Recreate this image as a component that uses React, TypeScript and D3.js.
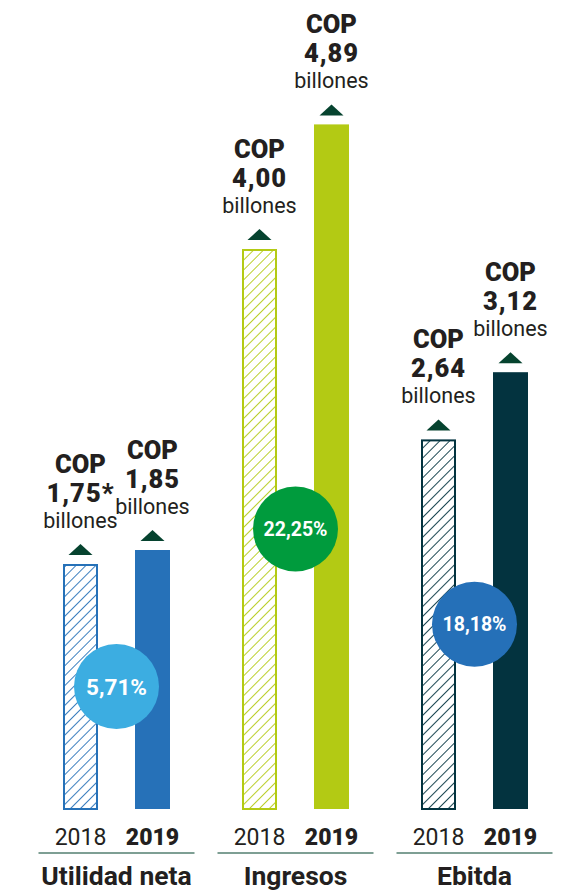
import React, { useEffect, useRef } from 'react';
import * as d3 from 'd3';

const categories = ['Utilidad neta', 'Ingresos', 'Ebitda'];
const years = ['2018', '2019'];
const values2018 = [1.75, 4.0, 2.64];
const values2019 = [1.85, 4.89, 3.12];
const notes2018 = ['*', '', ''];
const growth = ['5,71%', '22,25%', '18,18%'];

const barColors = ['#2671b8', '#b3ca14', '#03333f'];
const circleColors = ['#3cade1', '#009b3d', '#2570b8'];

const W = 568;
const H = 891;

const fmt = (v: number) => d3.format('.2f')(v).replace('.', ',');

const App: React.FC = () => {
  const svgRef = useRef<SVGSVGElement>(null);

  useEffect(() => {
    if (!svgRef.current) return;
    d3.select(svgRef.current).selectAll('*').remove();

    const svg = d3.select(svgRef.current).attr('width', W).attr('height', H);
    const font = 'Roboto, "DejaVu Sans", sans-serif';

    const x0 = d3.scaleBand<string>().domain(categories).range([27, 564]);
    const x1 = d3.scaleBand<string>().domain(years).range([0, x0.bandwidth()])
      .paddingInner(0.514).paddingOuter(0.5);
    const y = d3.scaleLinear().domain([0, 5]).range([809, 109]);

    // hatch patterns
    const defs = svg.append('defs');
    categories.forEach((c, i) => {
      const p = defs.append('pattern')
        .attr('id', `hatch-${i}`)
        .attr('patternUnits', 'userSpaceOnUse')
        .attr('width', 7)
        .attr('height', 7)
        .attr('patternTransform', 'rotate(45)');
      p.append('rect').attr('width', 7).attr('height', 7).attr('fill', '#fff');
      p.append('line')
        .attr('x1', 0).attr('y1', 0).attr('x2', 0).attr('y2', 7)
        .attr('stroke', barColors[i])
        .attr('stroke-width', 1.8);
    });

    const addText = (g: d3.Selection<SVGGElement, unknown, null, undefined>,
      x: number, yy: number, size: number, weight: number, txt: string, fill = '#231f20') =>
      g.append('text')
        .attr('x', x).attr('y', yy)
        .attr('text-anchor', 'middle')
        .attr('font-family', font)
        .attr('font-size', size)
        .attr('font-weight', weight)
        .attr('fill', fill)
        .text(txt);

    categories.forEach((c, i) => {
      const g = svg.append('g').attr('transform', `translate(${x0(c)},0)`);
      const cx = x0.bandwidth() / 2;
      const vals = [values2018[i], values2019[i]];

      vals.forEach((v, j) => {
        const bx = x1(years[j])!;
        const bw = x1.bandwidth();
        const top = y(v);
        if (j === 0) {
          g.append('rect')
            .attr('x', bx + 1).attr('y', top + 1)
            .attr('width', bw - 2).attr('height', y(0) - top - 1)
            .attr('fill', `url(#hatch-${i})`)
            .attr('stroke', barColors[i])
            .attr('stroke-width', 2);
        } else {
          g.append('rect')
            .attr('x', bx).attr('y', top)
            .attr('width', bw).attr('height', y(0) - top)
            .attr('fill', barColors[i]);
        }

        const mx = bx + bw / 2;
        // triangle marker
        g.append('path')
          .attr('d', `M${mx - 12},${top - 9} L${mx + 12},${top - 9} L${mx},${top - 20} Z`)
          .attr('fill', '#06432f');

        addText(g, mx, top - 91, 25.5, 900, 'COP');
        addText(g, mx, top - 62, 25.5, 900, fmt(v) + (j === 0 ? notes2018[i] : ''))
          .attr('letter-spacing', 1);
        addText(g, mx, top - 36, 21.5, 400, 'billones');

        addText(g, mx, 845, 23, j === 0 ? 400 : 900, years[j]);
      });

      // growth circle
      const cy = y(values2018[i] / 2);
      g.append('circle')
        .attr('cx', cx).attr('cy', cy).attr('r', 42.5)
        .attr('fill', circleColors[i]);
      addText(g, cx, cy + (i === 0 ? 8 : 7), i === 0 ? 22.5 : 19.5, 700, growth[i], '#fff');

      // separator
      g.append('line')
        .attr('x1', cx - 78).attr('x2', cx + 78)
        .attr('y1', 853).attr('y2', 853)
        .attr('stroke', '#7e9f94').attr('stroke-width', 2);

      addText(g, cx, 885, 26.5, 700, c);
    });
  }, []);

  return (
    <div style={{ position: 'absolute', left: 0, top: 0, background: '#fff' }}>
      <svg ref={svgRef} style={{ display: 'block' }} />
    </div>
  );
};

export default App;
